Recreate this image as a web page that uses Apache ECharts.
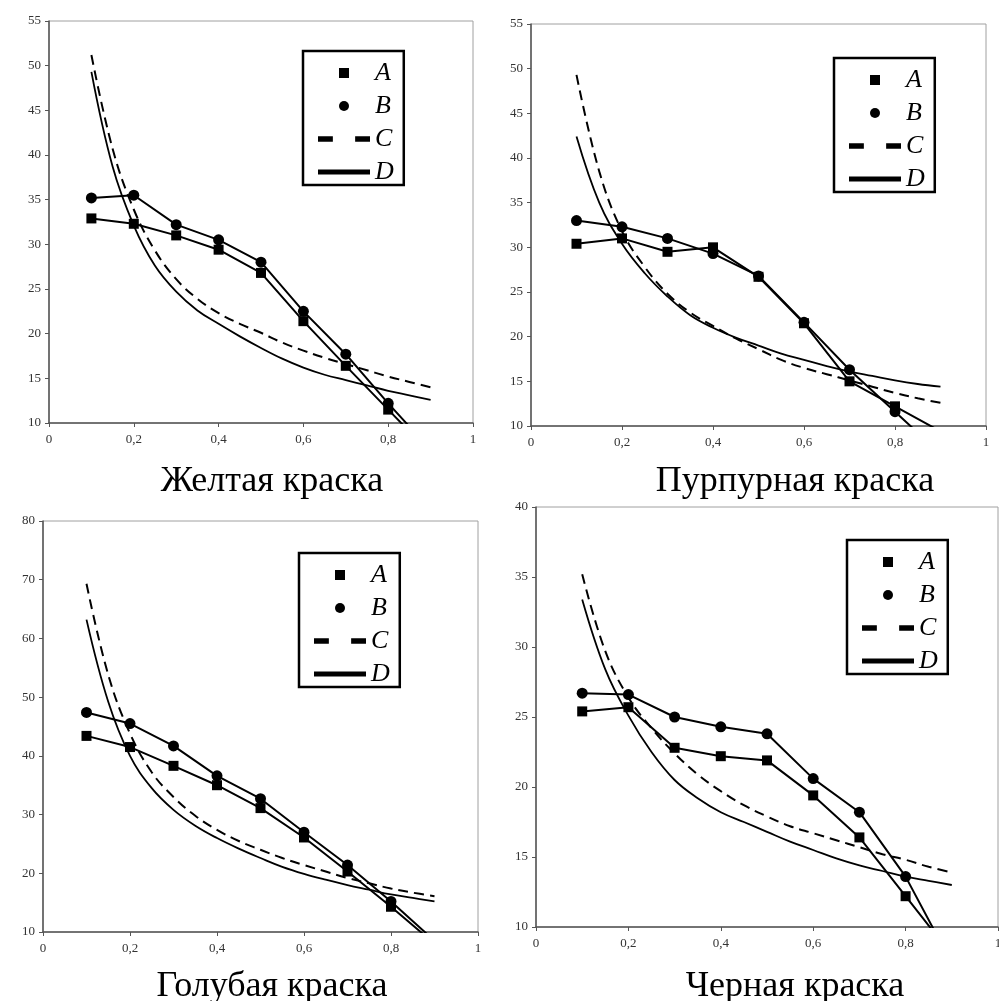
<!DOCTYPE html>
<html>
<head>
<meta charset="utf-8">
<title>Краски</title>
<script src="https://cdn.jsdelivr.net/npm/echarts@6/dist/echarts.min.js"></script>
<style>
  html, body { margin: 0; padding: 0; background: #fff; }
  #chart { width: 999px; height: 1001px; }
</style>
</head>
<body>
<div id="chart"></div>
<script>
// абсциссы измерений (A, B)
var xPoints = [0.1, 0.2, 0.3, 0.4, 0.5, 0.6, 0.7, 0.8, 0.9]
var curveX = [0.1, 0.15, 0.2, 0.25, 0.3, 0.35, 0.4, 0.45, 0.5, 0.55, 0.6, 0.65, 0.7, 0.75, 0.8, 0.85, 0.9]
var xTickLabels = ['0', '0,2', '0,4', '0,6', '0,8', '1']
var seriesNames = ['A', 'B', 'C', 'D']
var panelTitles = ['Желтая краска', 'Пурпурная краска', 'Голубая краска', 'Черная краска']
var yMax = [55, 55, 80, 40]
var yStep = [5, 5, 10, 5]

// Желтая краска
var yellowA = [32.9, 32.3, 31.0, 29.4, 26.8, 21.4, 16.4, 11.5, 6.6]
var yellowB = [35.2, 35.5, 32.2, 30.5, 28.0, 22.5, 17.7, 12.2, 7.0]
var yellowC = [51.2, 40.7, 33.9, 29.3, 26.1, 23.9, 22.3, 21.1, 20.1, 19.0, 18.1, 17.3, 16.6, 15.9, 15.2, 14.6, 14.0]
var yellowD = [49.3, 38.7, 32.1, 27.6, 24.7, 22.6, 21.1, 19.7, 18.4, 17.2, 16.2, 15.4, 14.8, 14.2, 13.6, 13.1, 12.6]

// Пурпурная краска
var magentaA = [30.4, 31.0, 29.5, 30.0, 26.7, 21.5, 15.0, 12.2, 9.4]
var magentaB = [33.0, 32.3, 31.0, 29.3, 26.8, 21.6, 16.3, 11.6, 6.9]
var magentaC = [49.3, 38.5, 31.8, 27.8, 24.8, 22.7, 21.2, 19.8, 18.6, 17.4, 16.5, 15.8, 15.1, 14.4, 13.7, 13.1, 12.6]
var magentaD = [42.4, 35.0, 30.4, 27.1, 24.5, 22.4, 21.0, 19.9, 19.0, 18.1, 17.4, 16.7, 16.1, 15.6, 15.1, 14.7, 14.4]

// Голубая краска
var cyanA = [43.4, 41.5, 38.3, 35.0, 31.1, 26.1, 20.3, 14.3, 8.0]
var cyanB = [47.4, 45.5, 41.7, 36.6, 32.7, 27.0, 21.4, 15.2, 8.5]
var cyanC = [69.3, 53.8, 43.8, 37.2, 33.0, 29.8, 27.4, 25.5, 24.0, 22.6, 21.4, 20.3, 19.2, 18.3, 17.4, 16.7, 16.1]
var cyanD = [63.2, 49.2, 40.0, 34.5, 30.8, 28.1, 26.0, 24.2, 22.6, 21.1, 19.9, 18.9, 18.0, 17.2, 16.4, 15.8, 15.2]

// Черная краска
var blackA = [25.4, 25.7, 22.8, 22.2, 21.9, 19.4, 16.4, 12.2, 8.0]
var blackB = [26.7, 26.6, 25.0, 24.3, 23.8, 20.6, 18.2, 13.6, 7.4]
var blackC = [35.2, 29.7, 26.4, 24.2, 22.4, 20.9, 19.7, 18.7, 17.9, 17.2, 16.7, 16.2, 15.7, 15.2, 14.8, 14.3, 13.9]
var blackD = [33.4, 28.4, 25.1, 22.5, 20.5, 19.2, 18.2, 17.5, 16.8, 16.1, 15.5, 14.9, 14.4, 14.0, 13.6, 13.3, 13.0]

var panelData = [
  [yellowA, yellowB, yellowC, yellowD],
  [magentaA, magentaB, magentaC, magentaD],
  [cyanA, cyanB, cyanC, cyanD],
  [blackA, blackB, blackC, blackD]
]

// раскладка: сетки, легенды, подписи
var gridBoxes = [
  { left: 49, top: 21, width: 424, height: 402 },
  { left: 531, top: 24, width: 455, height: 402 },
  { left: 43, top: 521, width: 435, height: 411 },
  { left: 536, top: 507, width: 462, height: 420 }
]
var legendPos = [[303, 51], [834, 58], [299, 553], [847, 540]]
var titlePos = [[272, 482], [795, 482], [272, 987], [795, 987]]

var serif = 'Liberation Serif'
var legendIcons = {
  A: 'path://M0,0H10V10H0Z',
  B: 'circle',
  C: 'path://M0,0H14V5H0Z M35,0H49V5H35Z',
  D: 'path://M0,0H53V5H0Z'
}

var chart = echarts.init(document.getElementById('chart'))

var grids = [], xAxes = [], yAxes = [], legends = [], titles = [], series = []

for (var i = 0; i < 4; i++) {
  grids.push(Object.assign({
    show: true,
    borderColor: '#a0a0a0',
    borderWidth: 1,
    containLabel: false,
    outerBoundsMode: 'none'
  }, gridBoxes[i]))

  xAxes.push({
    gridIndex: i,
    type: 'value',
    min: 0,
    max: 1,
    interval: 0.2,
    axisLine: { show: true, onZero: false, lineStyle: { color: '#555', width: 1.5 } },
    axisTick: { show: true, length: 4, lineStyle: { color: '#555' } },
    splitLine: { show: false },
    axisLabel: {
      margin: 10,
      fontFamily: serif,
      fontSize: 13,
      color: '#333',
      formatter: function (v) { return xTickLabels[Math.round(v / 0.2)] }
    }
  })

  yAxes.push({
    gridIndex: i,
    type: 'value',
    min: 10,
    max: yMax[i],
    interval: yStep[i],
    axisLine: { show: true, onZero: false, lineStyle: { color: '#555', width: 1.5 } },
    axisTick: { show: true, length: 4, lineStyle: { color: '#555' } },
    splitLine: { show: false },
    axisLabel: { margin: 8, fontFamily: serif, fontSize: 13, color: '#333' }
  })

  legends.push({
    orient: 'vertical',
    left: legendPos[i][0],
    top: legendPos[i][1],
    selectedMode: false,
    padding: [9, 10, 0, 15],
    borderColor: '#000',
    borderWidth: 2.5,
    itemWidth: 52,
    itemHeight: 10,
    itemGap: 7,
    itemStyle: { borderWidth: 0 },
    textStyle: { fontFamily: serif, fontStyle: 'italic', fontSize: 26, color: '#000' },
    data: seriesNames.map(function (n) {
      return { name: n, icon: legendIcons[n], itemStyle: { color: '#000', borderWidth: 0 } }
    })
  })

  titles.push({
    text: panelTitles[i],
    left: titlePos[i][0],
    top: titlePos[i][1],
    padding: 0,
    textAlign: 'center',
    textVerticalAlign: 'middle',
    textStyle: { fontFamily: serif, fontSize: 36, fontWeight: 'normal', color: '#000' }
  })

  var d = panelData[i]
  // A — квадраты, B — круги
  series.push({
    name: 'A', type: 'line', xAxisIndex: i, yAxisIndex: i,
    data: xPoints.map(function (x, j) { return [x, d[0][j]] }),
    symbol: 'rect', symbolSize: 10,
    itemStyle: { color: '#000' },
    lineStyle: { color: '#000', width: 2 }
  })
  series.push({
    name: 'B', type: 'line', xAxisIndex: i, yAxisIndex: i,
    data: xPoints.map(function (x, j) { return [x, d[1][j]] }),
    symbol: 'circle', symbolSize: 11,
    itemStyle: { color: '#000' },
    lineStyle: { color: '#000', width: 2 }
  })
  // C — штриховая, D — сплошная кривая
  series.push({
    name: 'C', type: 'line', xAxisIndex: i, yAxisIndex: i,
    data: curveX.map(function (x, j) { return [x, d[2][j]] }),
    smooth: 0.4, showSymbol: false, symbol: 'none',
    itemStyle: { color: '#000' },
    lineStyle: { color: '#000', width: 2, type: [10, 6] }
  })
  series.push({
    name: 'D', type: 'line', xAxisIndex: i, yAxisIndex: i,
    data: curveX.map(function (x, j) { return [x, d[3][j]] }),
    smooth: 0.4, showSymbol: false, symbol: 'none',
    itemStyle: { color: '#000' },
    lineStyle: { color: '#000', width: 1.8 }
  })
}

chart.setOption({
  animation: false,
  backgroundColor: '#fff',
  title: titles,
  legend: legends,
  grid: grids,
  xAxis: xAxes,
  yAxis: yAxes,
  series: series
})
</script>
</body>
</html>
